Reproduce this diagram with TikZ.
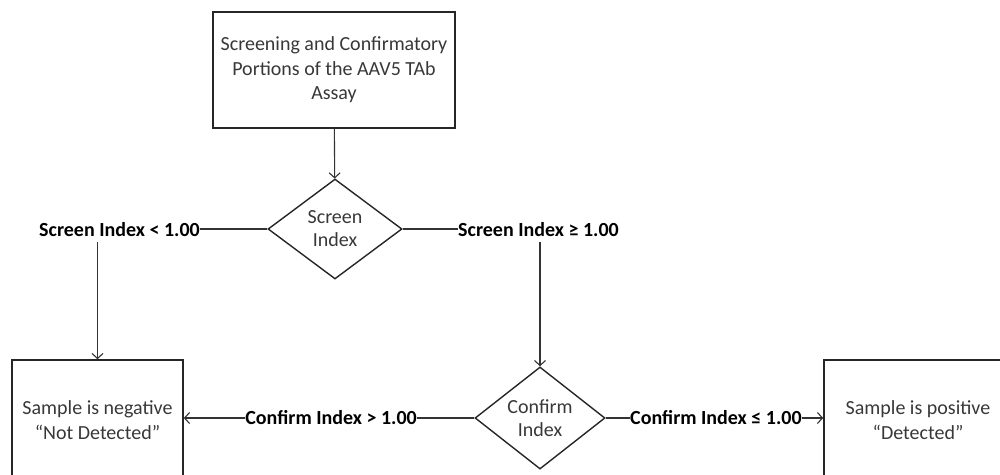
\documentclass[tikz,border=0pt]{standalone}
\usepackage{fontspec}
\setmainfont{Carlito}
\usetikzlibrary{shapes.geometric,arrows.meta}
\begin{document}
\begin{tikzpicture}[x=1pt,y=-1pt,
  box/.style={draw=black!85,line width=1.6pt,align=center,text=black!78,font=\fontsize{20}{24.5}\selectfont,inner sep=0pt},
  dia/.style={draw=black!85,line width=1.4pt,shape=diamond,align=center,text=black!78,font=\fontsize{20}{23}\selectfont,inner sep=0pt,minimum width=134pt,minimum height=100pt},
  lab/.style={font=\bfseries\fontsize{20}{24}\selectfont,inner sep=0pt,text=black},
  conn/.style={draw=black!80,line width=1.1pt},
  arr/.style={conn,-{Straight Barb[length=5pt,width=11pt]}}
]
\path[use as bounding box] (0,0) rectangle (1000,474);
\clip (0,0) rectangle (1000,474);

\node[box,minimum width=242pt,minimum height=116pt] (top) at (334,70) {Screening and Confirmatory\\Portions of the AAV5 TAb\\Assay};
\node[dia] (scr) at (335,229) {Screen\\Index};
\node[lab,anchor=east] (l1) at (200,230) {Screen Index < 1.00};
\node[lab,anchor=west] (r1) at (458,230) {Screen Index ≥ 1.00};
\node[dia,minimum width=130pt] (conf) at (540,418) {Confirm\\Index};
\node[lab,anchor=east] (l2) at (417,418) {Confirm Index > 1.00};
\node[lab,anchor=west] (r2) at (630,418) {Confirm Index ≤ 1.00};
\node[box,minimum width=171pt,minimum height=120pt] (neg) at (97.5,420) {Sample is negative\\“Not Detected”};
\node[box,minimum width=188pt,minimum height=120pt] (pos) at (918,420) {Sample is positive\\“Detected”};

\draw[arr] (top) -- (scr);
\draw[conn] (scr.west) -- (scr.west -| l1.east);
\draw[conn] (scr.east) -- (scr.east -| r1.west);
\draw[arr] ([yshift=-5pt]l1.south -| neg.north) -- (neg.north);
\draw[arr] ([yshift=-5pt]r1.south -| conf.north) -- (conf.north);
\draw[conn] (conf.west) -- (conf.west -| l2.east);
\draw[arr] (l2.west) -- (l2.west -| neg.east);
\draw[conn] (conf.east) -- (conf.east -| r2.west);
\draw[arr] (r2.east) -- (r2.east -| pos.west);
\end{tikzpicture}
\end{document}
